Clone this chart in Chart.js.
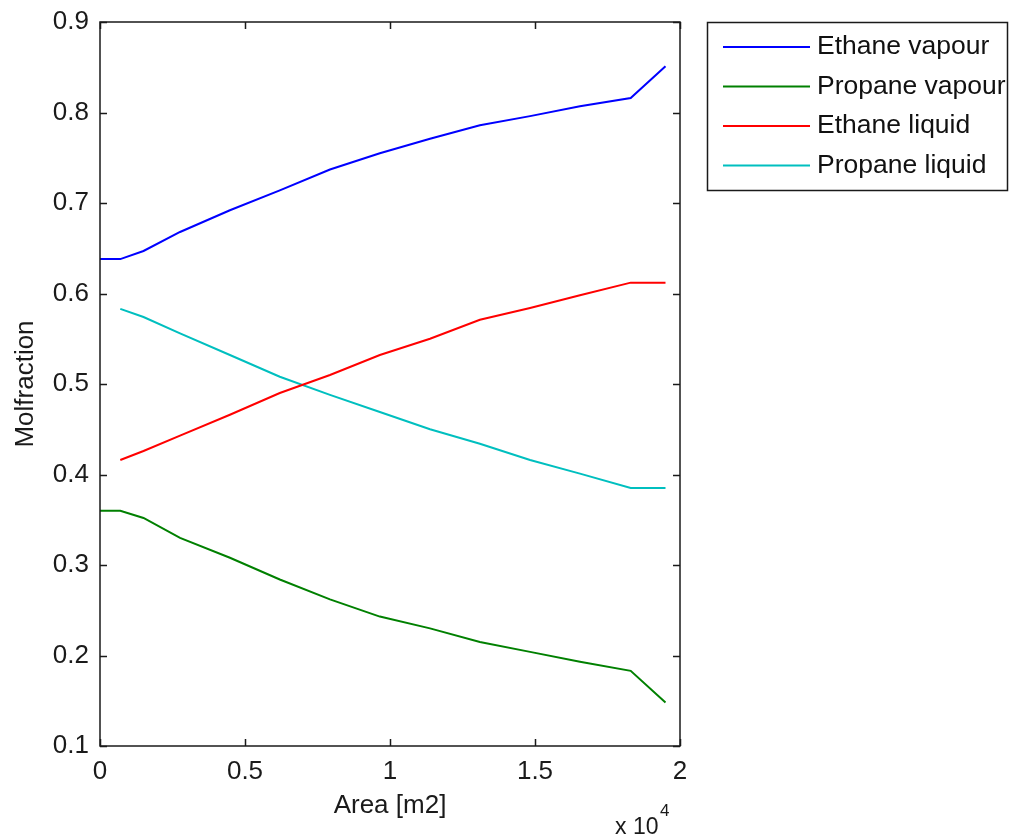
<!DOCTYPE html>
<html>
<head>
<meta charset="utf-8">
<script src="https://cdn.jsdelivr.net/npm/chart.js@4/dist/chart.umd.min.js"></script>
<style>
  html, body { margin: 0; padding: 0; background: #fff; }
  #wrap { width: 1012px; height: 840px; position: relative; }
</style>
</head>
<body>
<div id="wrap"><canvas id="c" width="1012" height="840"></canvas></div>
<script>
// Area along the exchanger [m2]
const area = [0, 700, 1500, 2760, 4480, 6200, 7930, 9650, 11380, 13100, 14830, 16550, 18300, 19500];
// Mole fractions of each component in each phase
const ethaneVapour  = [0.638, 0.638, 0.647, 0.668, 0.692, 0.714, 0.737, 0.755, 0.771, 0.786, 0.796, 0.807, 0.816, 0.851];
const propaneVapour = [0.360, 0.360, 0.352, 0.330, 0.308, 0.284, 0.262, 0.243, 0.230, 0.215, 0.204, 0.193, 0.183, 0.148];
const ethaneLiquid  = [null, 0.416, 0.426, 0.443, 0.466, 0.490, 0.510, 0.532, 0.550, 0.571, 0.584, 0.598, 0.612, 0.612];
const propaneLiquid = [null, 0.583, 0.574, 0.556, 0.532, 0.508, 0.488, 0.469, 0.450, 0.434, 0.416, 0.401, 0.385, 0.385];

const seriesLabels = ['Ethane vapour', 'Propane vapour', 'Ethane liquid', 'Propane liquid'];
const seriesColors = ['#0000ff', '#008000', '#ff0000', '#00bfbf'];
const yTicks = [0.1, 0.2, 0.3, 0.4, 0.5, 0.6, 0.7, 0.8, 0.9];
const xTicks = [0, 5000, 10000, 15000, 20000];

const FONT = '"Liberation Sans", Arial, sans-serif';
const toPoints = ys => area.map((x, i) => ({ x: x, y: ys[i] })).filter(p => p.y !== null);

const datasets = [ethaneVapour, propaneVapour, ethaneLiquid, propaneLiquid].map((ys, i) => ({
  label: seriesLabels[i],
  data: toPoints(ys),
  borderColor: seriesColors[i],
  backgroundColor: seriesColors[i],
  borderWidth: 2,
  pointRadius: 0,
  tension: 0,
  fill: false
}));

// Box frame with inward ticks, legend box and axis multiplier
const framePlugin = {
  id: 'frame',
  afterDraw(chart) {
    const { ctx, chartArea: a, scales } = chart;
    ctx.save();
    ctx.strokeStyle = '#1a1a1a';
    ctx.lineWidth = 1.5;
    ctx.strokeRect(a.left, a.top, a.right - a.left, a.bottom - a.top);
    const tl = 7;
    ctx.beginPath();
    yTicks.forEach(v => {
      const y = Math.round(scales.y.getPixelForValue(v)) + 0.5;
      ctx.moveTo(a.left, y); ctx.lineTo(a.left + tl, y);
      ctx.moveTo(a.right, y); ctx.lineTo(a.right - tl, y);
    });
    xTicks.forEach(v => {
      const x = Math.round(scales.x.getPixelForValue(v)) + 0.5;
      ctx.moveTo(x, a.bottom); ctx.lineTo(x, a.bottom - tl);
      ctx.moveTo(x, a.top); ctx.lineTo(x, a.top + tl);
    });
    ctx.stroke();

    // exponent under the x axis
    ctx.fillStyle = '#1a1a1a';
    ctx.textBaseline = 'alphabetic';
    ctx.textAlign = 'left';
    ctx.font = '23px ' + FONT;
    ctx.fillText('x 10', 615, 834);
    ctx.font = '17px ' + FONT;
    ctx.fillText('4', 660, 816);

    // legend
    const lx = 707, ly = 22, lw = 300, lh = 168;
    ctx.fillStyle = '#fff';
    ctx.fillRect(lx, ly, lw, lh);
    ctx.strokeStyle = '#1a1a1a';
    ctx.lineWidth = 1.5;
    ctx.strokeRect(lx + 0.5, ly + 0.5, lw, lh);
    ctx.font = '26.5px ' + FONT;
    ctx.textBaseline = 'middle';
    chart.data.datasets.forEach((ds, i) => {
      const y = 47 + i * 39.5;
      ctx.strokeStyle = ds.borderColor;
      ctx.lineWidth = 2;
      ctx.beginPath();
      ctx.moveTo(723, y); ctx.lineTo(810, y);
      ctx.stroke();
      ctx.fillStyle = '#111';
      ctx.fillText(ds.label, 817, y);
    });
    ctx.restore();
  }
};

new Chart(document.getElementById('c'), {
  type: 'line',
  data: { datasets: datasets },
  plugins: [framePlugin],
  options: {
    responsive: false,
    animation: false,
    layout: { padding: { left: 0, top: 22, right: 332, bottom: 0 } },
    plugins: { legend: { display: false }, tooltip: { enabled: false } },
    scales: {
      x: {
        type: 'linear',
        min: 0, max: 20000,
        afterFit: s => { s.height = 94; s.paddingLeft = 0; s.paddingRight = 0; },
        afterBuildTicks: s => { s.ticks = xTicks.map(v => ({ value: v })); },
        grid: { display: false, drawTicks: false },
        border: { display: false },
        ticks: {
          color: '#1a1a1a',
          font: { family: FONT, size: 26 },
          padding: 10,
          maxRotation: 0,
          callback: v => String(v / 10000)
        },
        title: {
          display: true, text: 'Area [m2]', color: '#1a1a1a',
          font: { family: FONT, size: 26 },
          padding: { top: 0, bottom: 19 }
        }
      },
      y: {
        type: 'linear',
        min: 0.1, max: 0.9,
        afterFit: s => { s.width = 100; s.paddingTop = 0; s.paddingBottom = 0; },
        afterBuildTicks: s => { s.ticks = yTicks.map(v => ({ value: v })); },
        grid: { display: false, drawTicks: false },
        border: { display: false },
        ticks: {
          color: '#1a1a1a',
          font: { family: FONT, size: 26 },
          padding: 11,
          callback: v => v.toFixed(1)
        },
        title: {
          display: true, text: 'Molfraction', color: '#1a1a1a',
          font: { family: FONT, size: 26 },
          padding: { top: 10, bottom: 0 }
        }
      }
    }
  }
});
</script>
</body>
</html>
